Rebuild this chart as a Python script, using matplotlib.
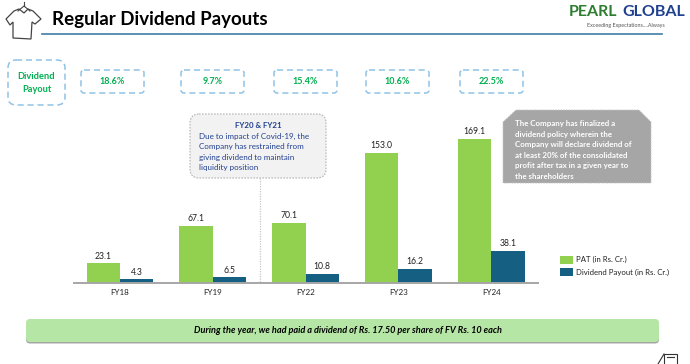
import matplotlib
matplotlib.use("Agg")
import matplotlib.pyplot as plt
from matplotlib.patches import FancyBboxPatch, Polygon, Rectangle

plt.rcParams["font.family"] = ["Lato", "DejaVu Sans"]

# values
years = ["FY18", "FY19", "FY22", "FY23", "FY24"]
pat = [23.1, 67.1, 70.1, 153.0, 169.1]
payout = [4.3, 6.5, 10.8, 16.2, 38.1]
payout_pct = ["18.6%", "9.7%", "15.4%", "10.6%", "22.5%"]

GREEN = "#92d050"
BLUE = "#156082"
W, H = 690, 364

fig = plt.figure(figsize=(6.9, 3.64), dpi=100, facecolor="white")

# full page layer, in pixels from the top left
pg = fig.add_axes([0, 0, 1, 1])
pg.set_xlim(0, W)
pg.set_ylim(H, 0)
pg.axis("off")


def rbox(x0, y0, x1, y1, r, **kw):
    p = FancyBboxPatch((x0 + r, y0 + r), x1 - x0 - 2 * r, y1 - y0 - 2 * r,
                       boxstyle="round,pad=%s,rounding_size=%s" % (r, r), **kw)
    pg.add_patch(p)


# title
pg.text(52, 20, "Regular Dividend Payouts", fontsize=13.5, fontweight="bold", va="center", color="black")
pg.plot([42, 662], [33.5, 33.5], color="#3f7ea6", lw=1.2)

# t-shirt icon
shirt = [(14, 11), (19, 9), (24, 13), (28, 9), (33, 11), (41, 19), (35, 24), (32, 22), (31, 39), (13, 38), (13, 22), (10, 25), (6, 19)]
pg.add_patch(Polygon(shirt, closed=True, fc="white", ec="#444444", lw=0.9))
pg.plot([18, 24, 30], [11, 6, 11], color="#444444", lw=0.8)
pg.plot([24, 24], [6, 2], color="#444444", lw=0.8)

# logo
pg.text(569, 12, "PEARL", fontsize=11.5, fontweight="bold", color="#2e7d32", va="center", ha="left")
pg.text(622, 12, "GLOBAL", fontsize=11.5, fontweight="bold", color="#1f3f8f", va="center", ha="left")
pg.text(626, 26, "Exceeding Expectations....Always", fontsize=3.9, color="#555555", va="center", ha="center")

# payout row
dash_blue = "#8fc3e6"
rbox(8, 60, 65, 105, 8, fc="white", ec=dash_blue, lw=1.1, ls=(0, (4, 2.5)))
pg.text(36.5, 76.5, "Dividend", fontsize=6.7, fontweight="bold", color="#00b050", ha="center", va="center")
pg.text(36.5, 89, "Payout", fontsize=6.7, fontweight="bold", color="#00b050", ha="center", va="center")
box_left = [81, 181, 274, 366, 460]
for x0, s in zip(box_left, payout_pct):
    rbox(x0, 70, x0 + 63, 93, 3, fc="white", ec=dash_blue, lw=1.1, ls=(0, (4, 2.5)))
    pg.text(x0 + 31.5, 81.5, s, fontsize=6.5, fontweight="bold", color="#00b050", ha="center", va="center")

# chart
ax = fig.add_axes([73.6 / W, 1 - 283 / H, 464 / W, 170.4 / H])
ax.patch.set_alpha(0)
xs = list(range(len(years)))
bar_w = 0.36
b1 = ax.bar([x - bar_w / 2 for x in xs], pat, bar_w, color=GREEN, label="PAT (in Rs. Cr.)")
b2 = ax.bar([x + bar_w / 2 for x in xs], payout, bar_w, color=BLUE, label="Dividend Payout (in Rs. Cr.)")
ax.bar_label(b1, fmt="%.1f", fontsize=6.2, padding=2, color="#222222")
ax.bar_label(b2, fmt="%.1f", fontsize=6.2, padding=2, color="#222222")
ax.set_xlim(-0.5, 4.5)
ax.set_ylim(0, 200)
ax.set_xticks(xs)
ax.set_xticklabels(years, fontsize=5.8, color="#222222")
ax.set_yticks([])
ax.tick_params(axis="x", length=0, pad=4)
for s in ["top", "left", "right"]:
    ax.spines[s].set_visible(False)
ax.spines["bottom"].set_color("#a6a6a6")
ax.spines["bottom"].set_linewidth(1.4)

fig.legend(loc="upper left", bbox_to_anchor=(557.7 / W, 1 - 253.5 / H), frameon=False, fontsize=5.6,
           handlelength=1.67, handleheight=1.16, handletextpad=0.4, labelspacing=0.55, labelcolor="#222222",
           borderpad=0.3, borderaxespad=0)

# FY20 & FY21 callout
pg.plot([260, 260], [178, 283], color="#c8c8c8", lw=0.9, ls=(0, (1, 1)))
rbox(190, 114, 326, 178, 9, fc="#f2f2f2", ec="#b5b5b5", lw=0.8, ls=(0, (1.5, 1.2)), zorder=3)
pg.text(258, 126, "FY20 & FY21", fontsize=5.7, fontweight="bold", color="#1f3f8f", ha="center", va="center", zorder=4)
for y, s in zip([136, 146.5, 157.5, 167.5],
                ["Due to impact of Covid-19, the", "Company has restrained from",
                 "giving dividend to maintain", "liquidity position"]):
    pg.text(199, y, s, fontsize=5.8, color="#1f3f8f", va="center", zorder=4)

# policy box with cut corners
poly = [(516, 110), (639, 110), (651, 122), (651, 183), (503, 183), (503, 122)]
pg.add_patch(Polygon(poly, closed=True, fc="#a6a6a6", ec="#c4c4c4", lw=0.7, ls=(0, (1.5, 1.2))))
policy = ["The Company has finalized a", "dividend policy wherein the", "Company will declare dividend of",
          "at least 20% of the consolidated", "profit after tax in a given year to", "the shareholders"]
for i, s in enumerate(policy):
    pg.text(515, 123.5 + i * 10.6, s, fontsize=5.7, fontweight="bold", color="white", va="center")

# bottom banner
rbox(26, 320.5, 659, 343.5, 4, fc="#a6a6a6", ec="none")
rbox(26, 319, 659, 342, 4, fc="#b5e6a5", ec="none")
pg.text(347.5, 330.5, "During the year, we had paid a dividend of Rs. 17.50 per share of FV Rs. 10 each",
        fontsize=6.55, fontweight="bold", fontstyle="italic", color="black", ha="center", va="center")

# corner icon, cut by the page edge
pg.add_patch(Rectangle((664, 354), 13, 12, fc="white", ec="#333333", lw=0.8))
pg.plot([664, 658], [354, 364], color="#333333", lw=0.8)
pg.plot([667, 674], [357, 357], color="#333333", lw=0.8)

fig.savefig("out.png", dpi=100)
